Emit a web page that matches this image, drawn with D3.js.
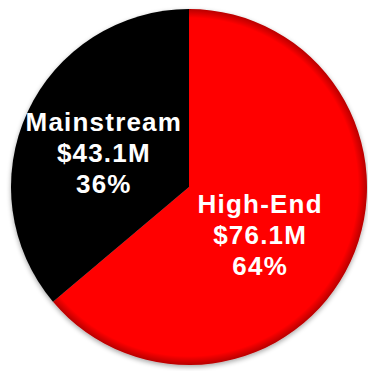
<!DOCTYPE html>
<html>
<head>
<meta charset="utf-8">
<script src="https://cdn.jsdelivr.net/npm/d3@7"></script>
<style>
  html, body { margin: 0; padding: 0; background: #fff; }
  text { font-family: "Liberation Sans", Arial, sans-serif; font-weight: bold; }
</style>
</head>
<body>
<svg id="chart"></svg>
<script>
const segments = ['High-End', 'Mainstream'];
const revenue = [76.1, 43.1];     // $M
const shares = ['64%', '36%'];
const colors = ['#ff0000', '#000000'];
const rimColors = ['#b80000', '#000000'];
const labelNudge = [[-15, 8], [1, 6]];

const width = 368, height = 371,
    cx = 189, cy = 187, radius = 178;

const svg = d3.select('svg#chart')
    .attr('width', width)
    .attr('height', height);

const defs = svg.append('defs');

const shadow = defs.append('filter').attr('id', 'shadow')
    .attr('x', '-10%').attr('y', '-10%').attr('width', '120%').attr('height', '120%');
shadow.append('feGaussianBlur').attr('in', 'SourceAlpha').attr('stdDeviation', 2.5);
shadow.append('feOffset').attr('dx', 0).attr('dy', 2).attr('result', 'blur');
shadow.append('feComponentTransfer').append('feFuncA').attr('type', 'linear').attr('slope', 0.35);
const merge = shadow.append('feMerge');
merge.append('feMergeNode');
merge.append('feMergeNode').attr('in', 'SourceGraphic');

segments.forEach((s, i) => {
    const g = defs.append('radialGradient').attr('id', 'grad' + i)
        .attr('gradientUnits', 'userSpaceOnUse')
        .attr('cx', 0).attr('cy', 0).attr('r', radius);
    g.append('stop').attr('offset', '95%').attr('stop-color', colors[i]);
    g.append('stop').attr('offset', '100%').attr('stop-color', rimColors[i]);
});

const data = segments.map((s, i) => ({ name: s, value: revenue[i], share: shares[i], i }));

const pie = d3.pie().sort(null).value(d => d.value);
const arc = d3.arc().innerRadius(0).outerRadius(radius);
const labelArc = d3.arc().innerRadius(95).outerRadius(95);

const g = svg.append('g').attr('transform', `translate(${cx},${cy})`);

g.append('g').attr('filter', 'url(#shadow)')
    .selectAll('path')
    .data(pie(data))
    .join('path')
    .attr('d', arc)
    .attr('fill', d => `url(#grad${d.data.i})`);

const labels = g.selectAll('text.label')
    .data(pie(data))
    .join('text')
    .classed('label', true)
    .attr('text-anchor', 'middle')
    .attr('fill', '#fff')
    .attr('font-size', 26)
    .attr('letter-spacing', 1.2)
    .attr('transform', d => {
        const [x, y] = labelArc.centroid(d);
        const n = labelNudge[d.data.i];
        return `translate(${x + n[0]},${y + n[1]})`;
    });

labels.each(function (d) {
    const lines = [d.data.name, `$${d.data.value}M`, d.data.share];
    d3.select(this).selectAll('tspan')
        .data(lines)
        .join('tspan')
        .attr('x', 0)
        .attr('y', (t, k) => (k - 1) * 31 + 9)
        .text(t => t);
});
</script>
</body>
</html>
